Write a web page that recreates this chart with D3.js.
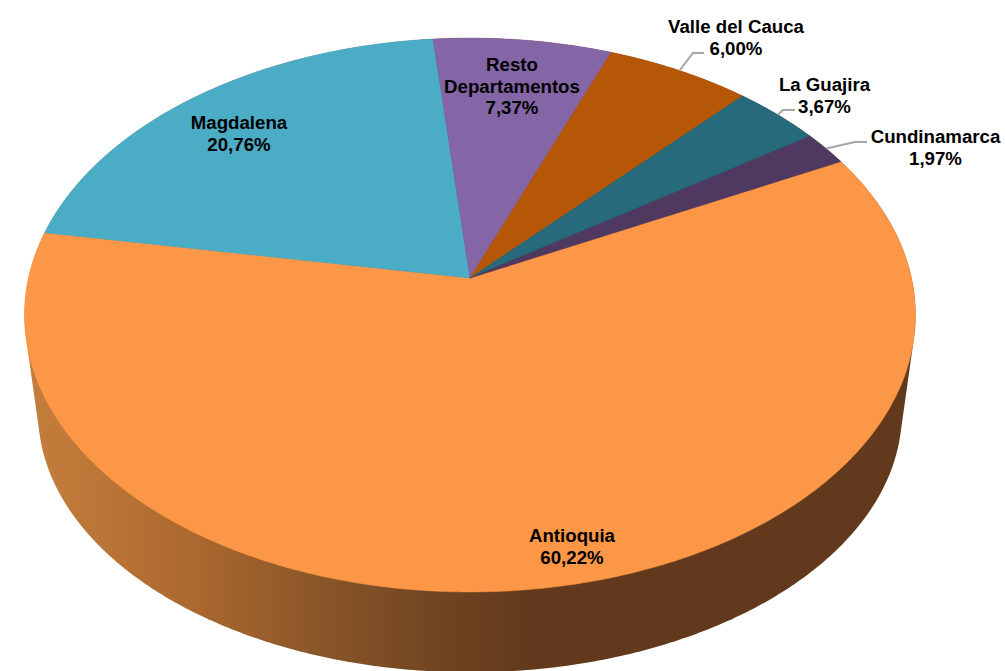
<!DOCTYPE html>
<html>
<head>
<meta charset="utf-8">
<style>
  html, body { margin: 0; padding: 0; background: #fff; overflow: hidden; }
  svg { display: block; }
  text { font-family: "Liberation Sans", Arial, sans-serif; font-weight: bold; font-size: 18.67px; fill: #000; text-anchor: middle; }
</style>
</head>
<body>
<svg></svg>
<script src="https://cdn.jsdelivr.net/npm/d3@7"></script>
<script>
const width = 1005
const height = 671

// chart data
const departments = ['Antioquia', 'Magdalena', 'Resto Departamentos', 'Valle del Cauca', 'La Guajira', 'Cundinamarca']
const shares = [60.22, 20.76, 7.37, 6.00, 3.67, 1.97]
const shareLabels = ['60,22%', '20,76%', '7,37%', '6,00%', '3,67%', '1,97%']

const colors = ['#fb9746', '#4bacc6', '#8465a5', '#b65708', '#276a7c', '#4f3961']

// label layout, one entry per department: centre x, first baseline, wrapped lines
const labelX = [572, 239, 512, 736, 824.5, 935.5]
const labelY = [542, 129, 71, 33, 91, 143]
const labelLines = [['Antioquia'], ['Magdalena'], ['Resto', 'Departamentos'], ['Valle del Cauca'], ['La Guajira'], ['Cundinamarca']]

// elbow and end of the leader lines (null = no leader)
const leaderEnds = [null, null, null, [[693, 53], [704, 53]], [[783, 110], [795, 110]], [[855, 142], [867, 142]]]

// the tilted disc: apex, horizontal and vertical radius, perspective
const topFace = { x: 470, y: 278, a: 441.5, b: 272 }
const bottomFace = { x: 470, y: 378, a: 428, b: 255 }
const persp = 0.1336

const startAngle = 63 * Math.PI / 180

let svg = d3.select('svg').attr('width', width).attr('height', height)

// angle is clockwise from the back of the pie
function project(face, angle, r = 1) {
    let u = r * Math.sin(angle)
    let v = r * Math.cos(angle)
    let w = 1 + persp * v
    return [face.x + face.a * u / w, face.y - face.b * v / w]
}

function rimPoints(face, a0, a1) {
    let steps = Math.max(2, Math.ceil((a1 - a0) / 0.01))
    return d3.range(steps + 1).map(i => project(face, a0 + (a1 - a0) * i / steps))
}

const pie = d3.pie().sort(null).startAngle(startAngle).endAngle(startAngle + 2 * Math.PI)
const arcs = pie(shares)
const line = d3.line()

function drawSide() {
    let stops = [
        [30, '#c47e3b'], [100, '#bb7536'], [200, '#aa672f'],
        [300, '#8f5929'], [400, '#784a24'], [530, '#62391c'], [915, '#62391c']
    ]
    let grad = svg.append('defs').append('linearGradient')
        .attr('id', 'side')
        .attr('gradientUnits', 'userSpaceOnUse')
        .attr('x1', 0).attr('x2', width)
        .attr('y1', 0).attr('y2', 0)
    grad.selectAll('stop').data(stops).enter().append('stop')
        .attr('offset', d => d[0] / width)
        .attr('stop-color', d => d[1])

    let outline = rimPoints(topFace, 0, 2 * Math.PI).concat(rimPoints(bottomFace, 0, 2 * Math.PI))
    svg.append('path')
        .attr('d', line(d3.polygonHull(outline)) + 'Z')
        .attr('fill', 'url(#side)')
}

function drawSlices() {
    svg.selectAll('path.slice')
        .data(arcs)
        .enter()
        .append('path')
        .attr('class', 'slice')
        .attr('d', d => line([[topFace.x, topFace.y]].concat(rimPoints(topFace, d.startAngle, d.endAngle))) + 'Z')
        .attr('fill', (d, i) => colors[i])
        .attr('stroke', (d, i) => colors[i])
        .attr('stroke-width', 0.5)
}

function drawLeaders() {
    arcs.forEach((d, i) => {
        if (!leaderEnds[i]) return
        let mid = (d.startAngle + d.endAngle) / 2
        svg.append('path')
            .attr('d', line([project(topFace, mid)].concat(leaderEnds[i])))
            .attr('fill', 'none')
            .attr('stroke', '#a6a6a6')
            .attr('stroke-width', 2)
    })
}

function drawLabels() {
    departments.forEach((name, i) => {
        let t = svg.append('text').attr('x', labelX[i]).attr('y', labelY[i])
        labelLines[i].concat(shareLabels[i]).forEach((s, j) => {
            t.append('tspan').attr('x', labelX[i]).attr('dy', j ? 21.5 : 0).text(s)
        })
    })
}

drawSide()
drawSlices()
drawLeaders()
drawLabels()
</script>
</body>
</html>
